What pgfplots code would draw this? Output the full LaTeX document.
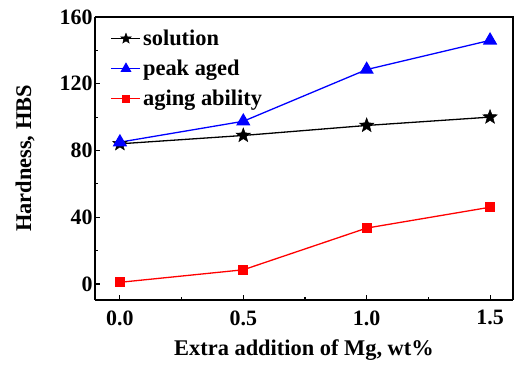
\documentclass[border=0pt]{standalone}
\usepackage{fontspec}
\setmainfont{Liberation Serif}
\usepackage{pgfplots}
\pgfplotsset{compat=1.18}
\pgfdeclareplotmark{fstar}{%
  \pgfpathmoveto{\pgfpointpolar{90}{\pgfplotmarksize}}%
  \pgfpathlineto{\pgfpointpolar{126}{0.42\pgfplotmarksize}}%
  \pgfpathlineto{\pgfpointpolar{162}{\pgfplotmarksize}}%
  \pgfpathlineto{\pgfpointpolar{198}{0.42\pgfplotmarksize}}%
  \pgfpathlineto{\pgfpointpolar{234}{\pgfplotmarksize}}%
  \pgfpathlineto{\pgfpointpolar{270}{0.42\pgfplotmarksize}}%
  \pgfpathlineto{\pgfpointpolar{306}{\pgfplotmarksize}}%
  \pgfpathlineto{\pgfpointpolar{342}{0.42\pgfplotmarksize}}%
  \pgfpathlineto{\pgfpointpolar{18}{\pgfplotmarksize}}%
  \pgfpathlineto{\pgfpointpolar{54}{0.42\pgfplotmarksize}}%
  \pgfpathclose
  \pgfusepathqfillstroke
}
\begin{document}
\begin{tikzpicture}
\begin{axis}[
  scale only axis,
  width=418bp, height=283bp,
  xmin=-0.101, xmax=1.593,
  ymin=-9.6, ymax=160,
  xtick={0,0.5,1.0,1.5},
  xticklabels={0.0,0.5,1.0,1.5},
  ytick={0,40,80,120,160},
  minor xtick={0.25,0.75,1.25},
  minor ytick={20,60,100,140},
  tick align=inside,
  axis x line*=bottom, axis y line*=left,
  axis line style={line width=1.4bp},
  every tick/.style={black, line width=1.1bp},
  major tick length=5bp, minor tick length=3bp,
  /pgf/number format/assume math mode=true,
  ticklabel style={font=\fontsize{22}{24}\selectfont\bfseries},
  xticklabel style={yshift=-7bp},
  yticklabel style={xshift=1bp},
  label style={font=\fontsize{22.5}{25}\selectfont\bfseries},
  xlabel={Extra addition of Mg, wt\%},
  ylabel={Hardness, HBS},
  xlabel style={at={(rel axis cs:0.5,-0.1767)}, anchor=center},
  ylabel style={font=\fontsize{22.5}{25}\selectfont\bfseries, at={(rel axis cs:-0.1675,0.5)}, anchor=center},
  legend style={draw=none, fill=none, at={(rel axis cs:0.035,0.965)}, anchor=north west,
    font=\fontsize{22.5}{25}\selectfont\bfseries, row sep=9bp, inner sep=1bp,
    /tikz/every even column/.append style={column sep=5bp}},
  legend cell align=left,
  legend image code/.code={%
    \draw[mark repeat=2,mark phase=2,#1, every mark/.append style={scale=0.72}] plot coordinates {(0bp,0bp) (14.5bp,0bp) (29bp,0bp)};},
  clip=false,
]
\addplot[black, line width=1.3bp, mark=fstar, mark options={line width=0.5bp}, mark size=7.5bp]
  coordinates {(0,84) (0.5,89) (1.0,95) (1.5,100)};
\addlegendentry{solution}
\addplot[blue, line width=1.3bp, mark=triangle*, mark size=7bp]
  coordinates {(0,85) (0.5,97.5) (1.0,128.5) (1.5,146)};
\addlegendentry{peak aged}
\addplot[red, line width=1.3bp, mark=square*, mark size=4.5bp]
  coordinates {(0,1) (0.5,8.5) (1.0,33.5) (1.5,46)};
\addlegendentry{aging ability}
\draw[line width=1.4bp] (rel axis cs:0,1) -- (rel axis cs:1,1) -- (rel axis cs:1,0);
\coordinate (bl) at (rel axis cs:0,0);
\coordinate (tr) at (rel axis cs:1,1);
\end{axis}
\pgfresetboundingbox
\path ([shift={(-95bp,-65bp)}]bl) rectangle ([shift={(1bp,17bp)}]tr);
\end{tikzpicture}
\end{document}
